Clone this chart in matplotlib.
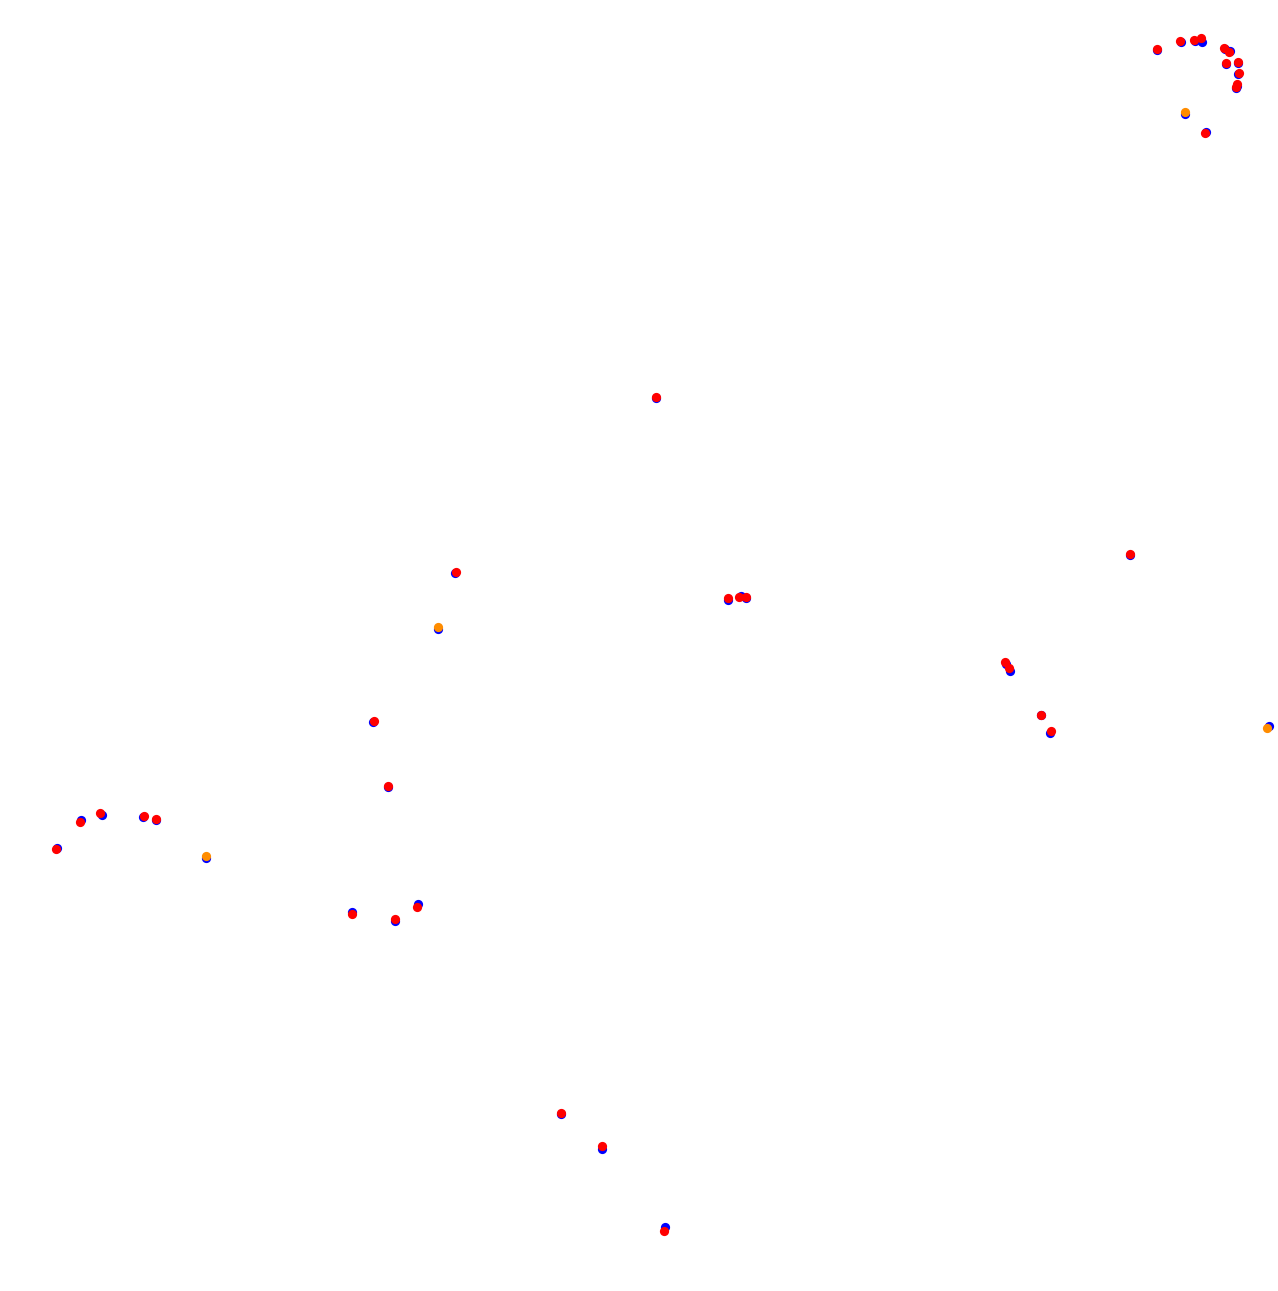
import matplotlib
matplotlib.use("Agg")
import matplotlib.pyplot as plt

# positions (image-like coords, y grows downward)
blue_x = [1157, 1181, 1195, 1202, 1225, 1230, 1226, 1238, 1238, 1237, 1236, 1185, 1206,
          656, 455, 438, 373, 388,
          728, 741, 746,
          1006, 1010, 1041, 1050, 1130, 1269,
          57, 81, 102, 143, 156, 206,
          352, 395, 418,
          561, 602, 665]
blue_y = [50, 42, 41, 42, 49, 51, 64, 63, 74, 86, 88, 114, 132,
          398, 573, 629, 722, 787,
          600, 596, 598,
          664, 671, 715, 733, 555, 726,
          848, 820, 815, 817, 820, 858,
          912, 921, 904,
          1114, 1149, 1227]

red_x = [1157, 1180, 1194, 1201, 1224, 1229, 1226, 1238, 1239, 1237, 1236, 1205,
         656, 456, 374, 388,
         728, 739, 746,
         1005, 1009, 1041, 1051, 1130,
         56, 80, 100, 144, 156,
         352, 395, 417,
         561, 602, 664]
red_y = [49, 41, 40, 38, 48, 52, 63, 62, 73, 84, 87, 133,
         397, 572, 721, 786,
         598, 597, 597,
         662, 668, 715, 731, 554,
         849, 822, 813, 816, 819,
         914, 919, 907,
         1113, 1146, 1231]

orange_x = [1185, 438, 1267, 206]
orange_y = [112, 627, 728, 856]

fig = plt.figure(figsize=(12.78, 12.91), dpi=100)
ax = fig.add_axes([0, 0, 1, 1])

ax.scatter(blue_x, blue_y, s=44, color='#0000ff', linewidths=0)
ax.scatter(red_x, red_y, s=44, color='#ff0000', linewidths=0)
ax.scatter(orange_x, orange_y, s=44, color='#ff8c00', linewidths=0)

ax.set_xlim(0, 1278)
ax.set_ylim(1291, 0)
ax.axis('off')

fig.savefig('out.png', dpi=100, facecolor='white')
